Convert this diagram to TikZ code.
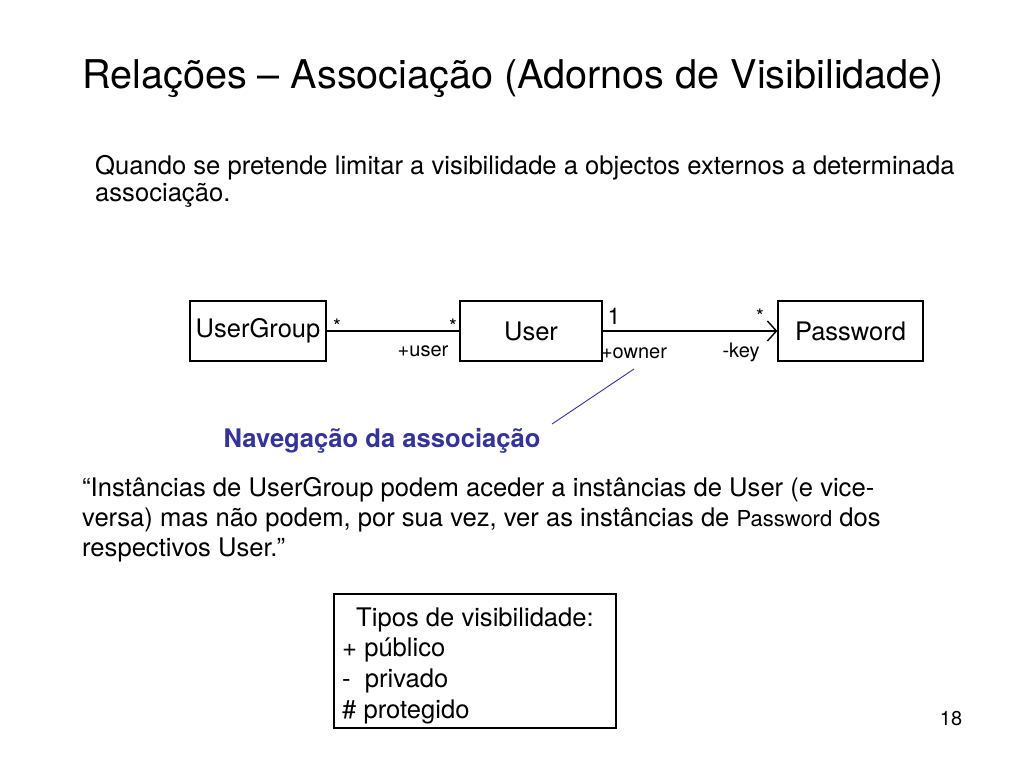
\documentclass[tikz,border=0pt]{standalone}
\usepackage{fontspec}
\setmainfont{TeX Gyre Heros}
\usetikzlibrary{arrows.meta}
\definecolor{navblue}{RGB}{51,51,153}
\newcommand{\fs}[1]{\fontsize{#1}{#1}\selectfont}
\begin{document}
\begin{tikzpicture}[x=1pt,y=-1pt,
  txt/.style={inner sep=0pt,anchor=base west,font=\fs{25.6}},
  cls/.style={draw,line width=1.3pt,minimum width=#1,minimum height=60pt,inner sep=0pt,font=\fs{25.5}},
  small/.style={inner sep=0pt,font=\fs{20},anchor=base},
  assoc/.style={line width=1.6pt}]
\useasboundingbox[fill=white] (0,0) rectangle (1024,768);
\node[txt,font=\fs{39.6}] (title) at (82,88) {Relações – Associação (Adornos de Visibilidade)};
\node[txt] (p1) at (95,174) {Quando se pretende limitar a visibilidade a objectos externos a determinada};
\node[txt] (p2) at (95,201) {associação.};
% classes
\node[cls=136pt] (ug) at (258,331) {UserGroup};
\node[cls=142pt] (user) at (531,331) {User};
\node[cls=145pt] (pw) at (850.5,331) {Password};
\draw[assoc] (ug.east) -- (user.west);
\draw[assoc,-{Straight Barb[length=9pt,width=20pt,line width=1.4pt]}] (user.east) -- (pw.west);
\node[small] (m1) at (337,333) {*};
\node[small] (m2) at (453,333) {*};
\node[small] (r1) at (423,356) {+user};
\node[small,font=\fs{23}] (m3) at (614,324) {1};
\node[small] (r2) at (634,358) {+owner};
\node[small] (m4) at (760,323) {*};
\node[small] (r3) at (741,357) {-key};
% navigation note
\node[inner sep=0pt,font=\fs{25.6}\bfseries,text=navblue,anchor=base] (nav) at (382,447) {Navegação da associação};
\coordinate (navend) at (552,424);
\coordinate (ownerpt) at (634,369);
\draw[navblue,line width=0.9pt] (ownerpt) -- (navend);
% quote
\node[txt] (q1) at (82,496) {“Instâncias de UserGroup podem aceder a instâncias de User (e vice-};
\node[txt] (q2) at (82,526) {versa) mas não podem, por sua vez, ver as instâncias de {\fs{22}Password} dos};
\node[txt] (q3) at (82,556) {respectivos User.”};
% visibility box
\draw[line width=1.3pt] (334,594) rectangle (616,728);
\node[inner sep=0pt,font=\fs{25.6},anchor=base] (v0) at (475,626) {Tipos de visibilidade:};
\node[txt] (v1) at (342,656) {+ público};
\node[txt] (v2) at (342,687) {-\ \ privado};
\node[txt] (v3) at (342,718) {\# protegido};
\node[inner sep=0pt,font=\fs{20},anchor=base] (pg) at (951,725) {18};
\end{tikzpicture}
\end{document}
